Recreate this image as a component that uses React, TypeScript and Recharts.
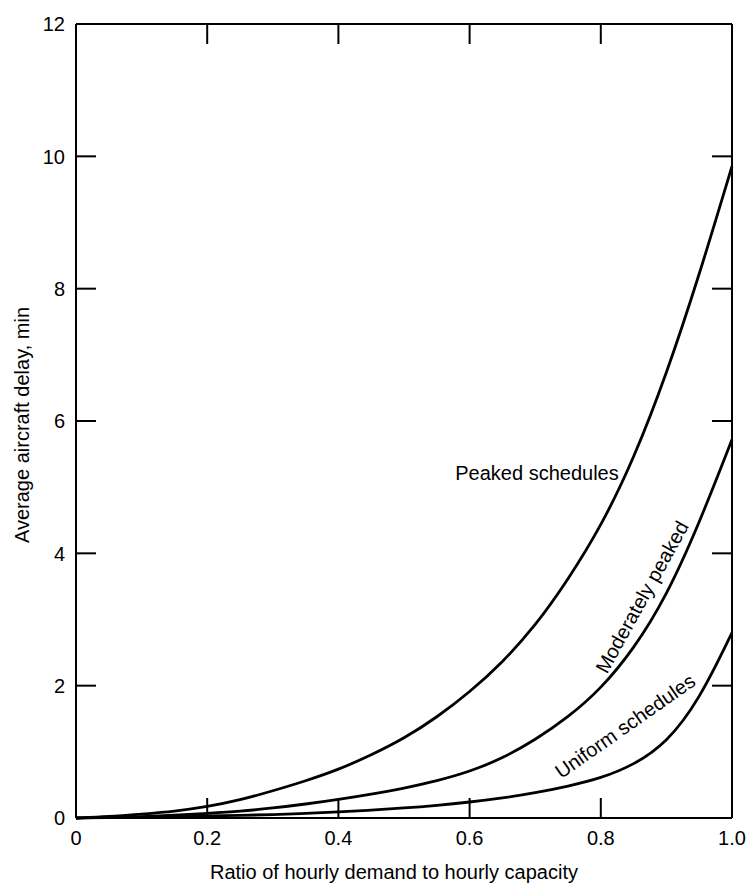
import { LineChart, Line, XAxis, YAxis, ReferenceLine } from 'recharts';

// demand / capacity ratio
const ratio = [
  0, 0.05, 0.1, 0.15, 0.2, 0.25, 0.3, 0.35, 0.4, 0.45, 0.5,
  0.55, 0.6, 0.65, 0.7, 0.75, 0.8, 0.85, 0.9, 0.95, 1.0,
];
// average delay, min
const peaked = [
  0, 0.02, 0.06, 0.1, 0.17, 0.27, 0.41, 0.56, 0.73, 0.95, 1.2,
  1.52, 1.9, 2.35, 2.9, 3.6, 4.4, 5.42, 6.7, 8.2, 9.85,
];
const moderate = [
  0, 0.01, 0.02, 0.04, 0.07, 0.1, 0.15, 0.21, 0.28, 0.36, 0.45,
  0.56, 0.7, 0.9, 1.18, 1.52, 1.95, 2.55, 3.35, 4.45, 5.72,
];
const uniform = [
  0, 0.005, 0.01, 0.02, 0.03, 0.04, 0.05, 0.07, 0.09, 0.12, 0.15,
  0.19, 0.24, 0.3, 0.38, 0.48, 0.6, 0.8, 1.13, 1.78, 2.8,
];

const xTicks = [0, 0.2, 0.4, 0.6, 0.8, 1.0];
const yTicks = [0, 2, 4, 6, 8, 10, 12];

const chartData = ratio.map((r, i) => ({
  ratio: r,
  peaked: peaked[i],
  moderate: moderate[i],
  uniform: uniform[i],
}));

const FONT = '"Liberation Sans", Arial, sans-serif';
const TOP = 24;
const RIGHT = 732;
const TICK = 20;

const fmtX = (v: number) => (v === 0 ? '0' : v.toFixed(1));

function XTick(props: any) {
  const { x, y, payload } = props;
  const v = payload.value;
  const inner = v > 0 && v < 1;
  return (
    <g>
      {inner && <line x1={x} y1={y} x2={x} y2={y - TICK} stroke="#000" strokeWidth={2} />}
      {inner && <line x1={x} y1={TOP} x2={x} y2={TOP + TICK} stroke="#000" strokeWidth={2} />}
      <text x={x} y={y + 27} textAnchor="middle" fontSize={20} fontFamily={FONT} fill="#000">
        {fmtX(v)}
      </text>
    </g>
  );
}

function YTick(props: any) {
  const { x, y, payload } = props;
  const v = payload.value;
  const inner = v > 0 && v < 12;
  return (
    <g>
      {inner && <line x1={x} y1={y} x2={x + TICK} y2={y} stroke="#000" strokeWidth={2} />}
      {inner && <line x1={RIGHT - TICK} y1={y} x2={RIGHT} y2={y} stroke="#000" strokeWidth={2} />}
      <text x={x - 11} y={y} dy="0.36em" textAnchor="end" fontSize={20} fontFamily={FONT} fill="#000">
        {v}
      </text>
    </g>
  );
}

export default function App() {
  return (
    <div style={{ position: 'absolute', left: 0, top: 0, width: 750, height: 884, background: '#fff' }}>
      <LineChart width={750} height={884} data={chartData} margin={{ top: TOP, right: 750 - RIGHT, left: 0, bottom: 0 }}>
        <XAxis
          dataKey="ratio"
          type="number"
          domain={[0, 1]}
          ticks={xTicks}
          height={66}
          tickSize={0}
          tickMargin={0}
          tickLine={false}
          tick={<XTick />}
          axisLine={{ stroke: '#000', strokeWidth: 2 }}
          interval={0}
        />
        <YAxis
          type="number"
          domain={[0, 12]}
          ticks={yTicks}
          width={76}
          tickSize={0}
          tickMargin={0}
          tickLine={false}
          tick={<YTick />}
          axisLine={{ stroke: '#000', strokeWidth: 2 }}
          interval={0}
        />
        <ReferenceLine y={12} stroke="#000" strokeWidth={2} />
        <ReferenceLine x={1} stroke="#000" strokeWidth={2} />
        <Line dataKey="peaked" type="basis" stroke="#000" strokeWidth={2.8} dot={false} isAnimationActive={false} />
        <Line dataKey="moderate" type="basis" stroke="#000" strokeWidth={2.8} dot={false} isAnimationActive={false} />
        <Line dataKey="uniform" type="basis" stroke="#000" strokeWidth={2.8} dot={false} isAnimationActive={false} />
      </LineChart>
      <svg
        width={750}
        height={884}
        style={{ position: 'absolute', left: 0, top: 0, pointerEvents: 'none' }}
        fontFamily={FONT}
        fontSize={20}
      >
        <text x={394} y={879} textAnchor="middle">Ratio of hourly demand to hourly capacity</text>
        <text transform="translate(29,425) rotate(-90)" textAnchor="middle">Average aircraft delay, min</text>
        <text x={537} y={480} textAnchor="middle">Peaked schedules</text>
        <text transform="translate(642,597) rotate(-61)" textAnchor="middle" dy="0.35em">Moderately peaked</text>
        <text transform="translate(625,726) rotate(-35)" textAnchor="middle" dy="0.35em">Uniform schedules</text>
      </svg>
    </div>
  );
}
